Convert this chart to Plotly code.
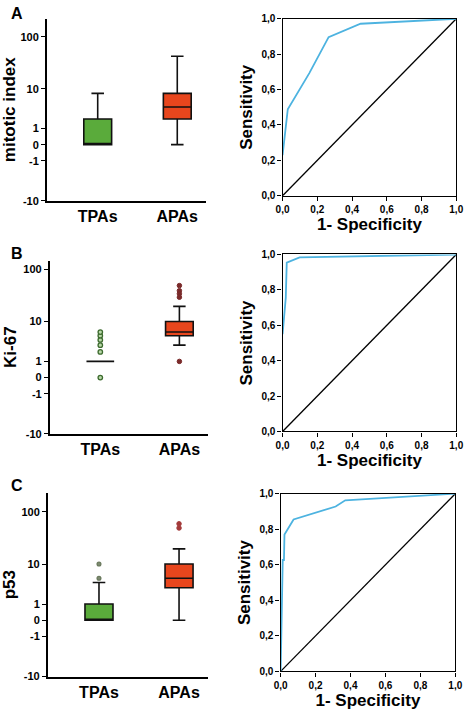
import numpy as np
import plotly.graph_objects as go

# ---------------- data ----------------
groups = ["TPAs", "APAs"]
y_ticks = [-10, -1, 0, 1, 10, 100]
y_ticktext = ["-10", "-1", "0", "1", "10", "100"]

# Panel A: mitotic index (q1, median, q3, lower whisker, upper whisker)
mit_tpas = dict(q1=0, median=0, q3=2, lo=0, hi=8)
mit_apas = dict(q1=2, median=4, q3=8, lo=0, hi=43)
mit_out_tpas = []
mit_out_apas = []

# Panel B: Ki-67
ki_tpas = dict(q1=1, median=1, q3=1, lo=1, hi=1)
ki_apas = dict(q1=5, median=6, q3=10, lo=3, hi=20)
ki_out_tpas = [0, 2, 3, 4, 5, 6]
ki_out_apas = [1, 30, 35, 40, 50]

# Panel C: p53
p53_tpas = dict(q1=0, median=0, q3=1, lo=0, hi=4)
p53_apas = dict(q1=3, median=5, q3=10, lo=0, hi=20)
p53_out_tpas = [5, 10]
p53_out_apas = [50, 60]

# ROC curves (1-specificity, sensitivity)
rocA_fpr = [0.0, 0.030, 0.154, 0.265, 0.449, 1.0]
rocA_tpr = [0.23, 0.489, 0.693, 0.896, 0.972, 1.0]
rocB_fpr = [0.0, 0.0185, 0.024, 0.098, 1.0]
rocB_tpr = [0.55, 0.756, 0.954, 0.984, 1.0]
rocC_fpr = [0.0, 0.008, 0.012, 0.019, 0.022, 0.074, 0.315, 0.37, 1.0]
rocC_tpr = [0.0, 0.60, 0.627, 0.627, 0.77, 0.855, 0.928, 0.963, 1.0]
roc_ticks = [0, 0.2, 0.4, 0.6, 0.8, 1.0]
roc_ticktext = ["0,0", "0,2", "0,4", "0,6", "0,8", "1,0"]

y_titles = ["mitotic index", "Ki-67", "p53"]
panel_letters = ["A", "B", "C"]

# ---------------- helpers ----------------
def f(v):
    v = np.asarray(v, dtype=float)
    return np.sign(v) * np.log10(np.abs(v) + 1)

W, H = 472, 718
def xd(a, b):
    return [a / W, b / W]
def yd(top, bot):
    return [1 - bot / H, 1 - top / H]

FONT = "Arial, Liberation Sans, Helvetica, sans-serif"
GREEN = "#5aab3b"
RED = "#e8461d"

left_dom_x = [xd(41, 205), xd(44, 207), xd(42, 207)]
left_dom_y = [yd(13, 198), yd(259, 435), yd(495, 682)]
left_top = [2.34, 2.17, 2.36]
right_dom_x = [xd(284, 463), xd(284, 463), xd(282, 462)]
right_dom_y = [yd(13, 193), yd(252.7, 432.7), yd(496, 676.7)]
letter_y = [8, 252, 488]

box_sets = [
    (mit_tpas, mit_apas, mit_out_tpas, mit_out_apas, ("#b8d8a8", "#3d6b2f", 4.5), "#7a2a2a"),
    (ki_tpas, ki_apas, ki_out_tpas, ki_out_apas, ("#b8d8a8", "#3d6b2f", 4.5), "#7a2a2a"),
    (p53_tpas, p53_apas, p53_out_tpas, p53_out_apas, ("#7d8a70", "#6b7a5e", 3.8), "#a33a3a"),
]
rocs = [(rocA_fpr, rocA_tpr), (rocB_fpr, rocB_tpr), (rocC_fpr, rocC_tpr)]

fig = go.Figure()
layout = dict(
    width=W, height=H, margin=dict(l=0, r=0, t=0, b=0),
    paper_bgcolor="white", plot_bgcolor="white", showlegend=False,
    font=dict(family=FONT, color="black"),
)
annotations = []

for i in range(3):
    lx = "x" if i == 0 else f"x{2*i+1}"
    ly = "y" if i == 0 else f"y{2*i+1}"
    rx = f"x{2*i+2}"
    ry = f"y{2*i+2}"
    tp, ap, otp, oap, ctp, cap_ = box_sets[i]
    for name, st, col in [(groups[0], tp, GREEN), (groups[1], ap, RED)]:
        fig.add_trace(go.Box(
            x=[name], q1=[float(f(st["q1"]))], median=[float(f(st["median"]))],
            q3=[float(f(st["q3"]))], lowerfence=[float(f(st["lo"]))],
            upperfence=[float(f(st["hi"]))], width=0.35, whiskerwidth=0.45,
            fillcolor=col, line=dict(color="#111111", width=1.6),
            boxpoints=False, xaxis=lx, yaxis=ly, hoverinfo="skip"))
    if otp:
        fig.add_trace(go.Scatter(
            x=[groups[0]] * len(otp), y=f(otp), mode="markers",
            marker=dict(size=ctp[2], color=ctp[0], line=dict(color=ctp[1], width=1.3)),
            xaxis=lx, yaxis=ly, hoverinfo="skip"))
    if oap:
        fig.add_trace(go.Scatter(
            x=[groups[1]] * len(oap), y=f(oap), mode="markers",
            marker=dict(size=4.5, color=cap_, line=dict(color=cap_, width=1)),
            xaxis=lx, yaxis=ly, hoverinfo="skip"))

    # ROC
    fpr, tpr = rocs[i]
    fig.add_trace(go.Scatter(x=[0, 1], y=[0, 1], mode="lines",
                             line=dict(color="black", width=1.3),
                             xaxis=rx, yaxis=ry, hoverinfo="skip"))
    fig.add_trace(go.Scatter(x=fpr, y=tpr, mode="lines",
                             line=dict(color="#4db3e0", width=1.8),
                             xaxis=rx, yaxis=ry, hoverinfo="skip"))

    lkx = "xaxis" if i == 0 else f"xaxis{2*i+1}"
    lky = "yaxis" if i == 0 else f"yaxis{2*i+1}"
    layout[lkx] = dict(
        domain=left_dom_x[i], anchor=ly, type="category",
        categoryorder="array", categoryarray=groups, range=[-0.64, 1.36],
        showline=True, linecolor="black", linewidth=1.6, ticks="",
        showgrid=False, zeroline=False,
        tickfont=dict(size=16, family=FONT, weight="bold"))
    layout[lky] = dict(
        domain=left_dom_y[i], anchor=lx, range=[float(f(-10)), left_top[i]],
        tickvals=list(f(y_ticks)), ticktext=y_ticktext,
        showline=True, linecolor="black", linewidth=1.6,
        ticks="outside", ticklen=4, tickwidth=1.4, tickcolor="black",
        showgrid=False, zeroline=False,
        tickfont=dict(size=11, family=FONT, weight="bold"),
        title=dict(text=y_titles[i], standoff=2,
                   font=dict(size=17, family=FONT, weight="bold")))
    layout[f"xaxis{2*i+2}"] = dict(
        domain=right_dom_x[i], anchor=ry, range=[0, 1],
        tickvals=roc_ticks, ticktext=roc_ticktext,
        showline=True, mirror=True, linecolor="black", linewidth=1.4,
        ticks="outside", ticklen=4, tickwidth=1.2, tickcolor="black",
        showgrid=False, zeroline=False,
        tickfont=dict(size=10, family=FONT, weight="bold"),
        title=dict(text="1- Specificity", standoff=3,
                   font=dict(size=17, family=FONT, weight="bold")))
    layout[f"yaxis{2*i+2}"] = dict(
        domain=right_dom_y[i], anchor=rx, range=[0, 1],
        tickvals=roc_ticks, ticktext=roc_ticktext,
        showline=True, mirror=True, linecolor="black", linewidth=1.4,
        ticks="outside", ticklen=4, tickwidth=1.2, tickcolor="black",
        showgrid=False, zeroline=False,
        tickfont=dict(size=10, family=FONT, weight="bold"),
        title=dict(text="Sensitivity", standoff=4,
                   font=dict(size=17, family=FONT, weight="bold")))
    annotations.append(dict(
        text=panel_letters[i], x=2 / W, y=1 - letter_y[i] / H,
        xref="paper", yref="paper", xanchor="left", yanchor="middle",
        showarrow=False, font=dict(size=16, family=FONT, weight="bold")))

layout["annotations"] = annotations
fig.update_layout(**layout)
fig.write_html("out.html", config={"displayModeBar": False},
               post_script="document.body.style.margin='0';document.body.style.overflow='hidden';")
